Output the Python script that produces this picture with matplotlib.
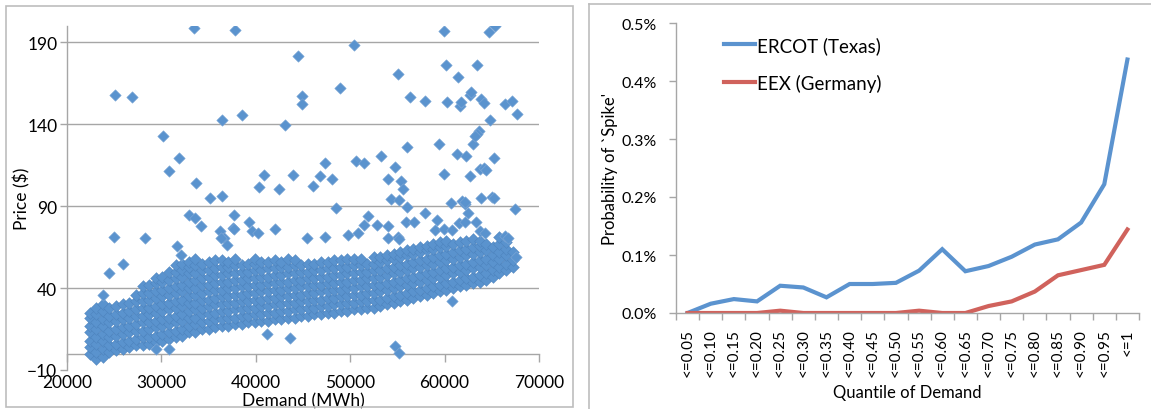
import matplotlib
matplotlib.use("Agg")
import matplotlib.pyplot as plt
from matplotlib.lines import Line2D
from matplotlib.ticker import FuncFormatter, FixedLocator

plt.rcParams['font.family'] = ['Lato', 'DejaVu Sans']

# ---------------- Left panel data: Demand (MWh) vs Price ($) ----------------
# dense band, typed column by column (demand, prices)
band_demand = [22400, 23100, 23800, 24500, 25200, 25900, 26600, 27300, 28000, 28700,
               29400, 30100, 30800, 31500, 32200, 32900, 33600, 34300, 35000, 35700,
               36400, 37100, 37800, 38500, 39200, 39900, 40600, 41300, 42000, 42700,
               43400, 44100, 44800, 45500, 46200, 46900, 47600, 48300, 49000, 49700,
               50400, 51100, 51800, 52500, 53200, 53900, 54600, 55300, 56000, 56700,
               57400, 58100, 58800, 59500, 60200, 60900, 61600, 62300, 63000, 63700,
               64400, 65100, 65800, 66500, 67200]
band_prices = [
    [0, 4, 8, 13, 17, 22, 25],
    [-3, 1, 6, 10, 15, 19, 24, 28],
    [-2, 3, 8, 12, 17, 21, 26, 30],
    [1, 5, 10, 14, 19, 23, 28],
    [2, 6, 11, 15, 20, 24, 29],
    [3, 7, 12, 16, 21, 25, 30],
    [4, 8, 13, 17, 22, 26, 31],
    [5, 9, 14, 18, 23, 27, 32, 36],
    [5, 10, 14, 19, 23, 28, 32, 37, 41],
    [6, 10, 15, 19, 24, 28, 33, 37, 42],
    [7, 11, 16, 20, 25, 29, 34, 38, 43, 46],
    [8, 12, 17, 21, 26, 30, 35, 39, 44, 47],
    [9, 13, 18, 22, 27, 31, 36, 40, 45, 50],
    [10, 14, 19, 23, 28, 32, 37, 41, 46, 50, 54],
    [11, 15, 20, 24, 29, 33, 38, 42, 47, 51, 55],
    [13, 17, 22, 26, 31, 35, 40, 44, 49, 53, 56],
    [13, 18, 22, 27, 31, 36, 40, 45, 49, 54, 58],
    [15, 19, 24, 28, 33, 37, 42, 46, 51, 55],
    [15, 20, 24, 29, 33, 38, 42, 47, 51, 56],
    [16, 21, 25, 30, 34, 39, 43, 48, 52, 57],
    [17, 21, 26, 30, 35, 39, 44, 48, 53, 57],
    [17, 22, 26, 31, 35, 40, 44, 49, 53, 56],
    [18, 22, 27, 31, 36, 40, 45, 49, 54, 58],
    [18, 23, 27, 32, 36, 41, 45, 50, 54],
    [19, 23, 28, 32, 37, 41, 46, 50, 55],
    [19, 24, 28, 33, 37, 42, 46, 51, 55, 58],
    [20, 24, 29, 33, 38, 42, 47, 51, 56],
    [20, 25, 29, 34, 38, 43, 47, 52, 56],
    [21, 25, 30, 34, 39, 43, 48, 52, 57],
    [21, 26, 30, 35, 39, 44, 48, 53, 56],
    [22, 26, 31, 35, 40, 44, 49, 53, 58],
    [22, 27, 31, 36, 40, 45, 49, 54, 57],
    [23, 27, 32, 36, 41, 45, 50, 54],
    [23, 28, 32, 37, 41, 46, 50, 55],
    [24, 28, 33, 37, 42, 46, 51, 55],
    [24, 29, 33, 38, 42, 47, 51, 56],
    [25, 29, 34, 38, 43, 47, 52, 56],
    [25, 30, 34, 39, 43, 48, 52, 57],
    [26, 30, 35, 39, 44, 48, 53, 57],
    [26, 31, 35, 40, 44, 49, 53, 58],
    [27, 31, 36, 40, 45, 49, 54, 58],
    [27, 32, 36, 41, 45, 50, 54, 58],
    [28, 32, 37, 41, 46, 50, 55],
    [28, 33, 37, 42, 46, 51, 55, 59],
    [29, 33, 38, 42, 47, 51, 56, 59],
    [30, 34, 39, 43, 48, 52, 57, 60],
    [31, 35, 40, 44, 49, 53, 58, 61],
    [32, 36, 41, 45, 50, 54, 59, 62],
    [33, 37, 42, 46, 51, 55, 60, 63],
    [34, 38, 43, 47, 52, 56, 61, 64],
    [35, 39, 44, 48, 53, 57, 62, 65],
    [36, 40, 45, 49, 54, 58, 63, 66],
    [37, 41, 46, 50, 55, 59, 64, 67],
    [38, 42, 47, 51, 56, 60, 65, 68],
    [39, 43, 48, 52, 57, 61, 66, 69],
    [40, 44, 49, 53, 58, 62, 67],
    [41, 45, 50, 54, 59, 63, 68],
    [42, 46, 51, 55, 60, 64, 69],
    [43, 47, 52, 56, 61, 65, 70],
    [44, 48, 53, 57, 62, 66, 69],
    [45, 49, 54, 58, 63, 67],
    [47, 51, 56, 60, 65],
    [49, 53, 58, 62, 67, 71],
    [51, 55, 60, 64, 68],
    [53, 57, 62],
]

# scattered points outside the band
out_demand = [33420, 37840, 59980, 64720, 65300, 50400, 44450, 55020, 60140, 63430,
              61470, 48870, 25090, 26920, 44920, 44920, 56380, 57950, 60220, 61670,
              61780, 62650, 62840, 63820, 64210, 66360, 67140, 67650, 64800, 36430,
              38580, 43120, 30170, 55990, 59400, 63040, 63630, 63430, 63230, 53250,
              31820, 50590, 51490, 47310, 61280, 62260, 65190, 30760, 40850, 43980,
              46800, 48050, 54740, 59900, 62720, 63740, 64210, 64410, 33690, 53960,
              55410, 55600, 40340, 42500, 46020, 35140, 36430, 54350, 55130, 60730,
              61860, 62170, 63820, 64990, 65270, 67420, 48480, 55990, 32910, 33610,
              37680, 34200, 39290, 36240, 36630, 37600, 37680, 42030, 39640, 40230,
              24970, 28290, 45430, 47310, 49730, 50790, 51460, 51890, 52860, 54040,
              54000, 55090, 55210, 55910, 56770, 57950, 59240, 58970, 59900, 60770,
              61500, 62200, 62450, 62200, 63300, 63800, 64300, 66440, 66700, 67540,
              31660, 32050, 25950, 24420, 23830, 60770, 41210, 43590, 54740, 55210,
              29390, 30760, 36350, 36900]
out_price = [198.7, 197.7, 197.1, 196.3, 199.8, 188.6, 181.5, 170.9, 176.4, 176.4,
             168.7, 162.0, 158.0, 156.5, 157.0, 152.6, 156.5, 154.4, 153.8, 151.0,
             153.4, 158.0, 159.5, 155.4, 153.0, 152.6, 154.4, 146.3, 142.4, 142.4,
             145.5, 139.8, 132.7, 126.0, 128.0, 128.2, 135.7, 134.3, 132.7, 120.5,
             119.5, 117.8, 116.4, 116.4, 122.1, 120.5, 119.5, 111.3, 108.9, 109.3,
             108.3, 106.3, 113.8, 109.7, 108.3, 112.4, 113.4, 112.0, 104.0, 106.3,
             105.2, 100.6, 101.6, 100.6, 102.2, 94.7, 96.5, 94.1, 93.5, 92.0,
             93.0, 91.6, 95.1, 95.7, 94.7, 88.4, 88.6, 89.6, 84.5, 82.9,
             84.5, 77.8, 80.4, 74.8, 70.3, 76.8, 75.8, 76.2, 74.8, 73.7,
             71.1, 70.5, 70.3, 71.3, 72.3, 73.7, 78.4, 84.3, 78.8, 78.2,
             70.7, 71.3, 70.1, 80.2, 80.2, 85.9, 81.3, 75.4, 75.8, 75.4,
             80.0, 80.4, 86.0, 92.5, 80.6, 75.0, 73.5, 71.7, 70.8, 58.9,
             66.0, 60.5, 54.8, 49.0, 35.5, 32.0, 11.8, 9.3, 4.6, 0.2,
             3.0, 2.6, 70.7, 66.5]

x_ticks_left = [20000, 30000, 40000, 50000, 60000, 70000]
y_ticks_left = [-10, 40, 90, 140, 190]

# ---------------- Right panel data ----------------
quantiles = ['<=0.05', '<=0.10', '<=0.15', '<=0.20', '<=0.25', '<=0.30', '<=0.35',
             '<=0.40', '<=0.45', '<=0.50', '<=0.55', '<=0.60', '<=0.65', '<=0.70',
             '<=0.75', '<=0.80', '<=0.85', '<=0.90', '<=0.95', '<=1']
ercot = [0.000, 0.016, 0.024, 0.020, 0.047, 0.044, 0.027, 0.050, 0.050, 0.052,
         0.073, 0.110, 0.072, 0.081, 0.097, 0.118, 0.127, 0.156, 0.222, 0.437]
eex = [0.000, 0.000, 0.000, 0.000, 0.004, 0.000, 0.000, 0.000, 0.000, 0.000,
       0.004, 0.000, 0.000, 0.012, 0.020, 0.037, 0.065, 0.074, 0.083, 0.144]
y_ticks_right = [0.0, 0.1, 0.2, 0.3, 0.4, 0.5]

# ---------------- styling ----------------
W, H = 1151, 410
fig = plt.figure(figsize=(W / 100, H / 100), dpi=100)
GRID = '#A6A6A6'
BOX = '#BDBDBD'
PT_FILL = '#5A93CE'
PT_EDGE = '#4A80BA'
BLUE = '#5B93CF'
RED = '#D0625C'

def fx(px):
    return px / W

def fy(py):
    return 1 - py / H

# panel borders
fig.add_artist(plt.Rectangle((fx(6), fy(408)), fx(573) - fx(6), fy(7) - fy(408),
                             transform=fig.transFigure, fill=False, edgecolor=BOX, lw=1.2))
fig.add_artist(Line2D([fx(589), fx(589)], [0, fy(5)], transform=fig.transFigure, color=BOX, lw=1.2))
fig.add_artist(Line2D([fx(589), 1], [fy(5), fy(5)], transform=fig.transFigure, color=BOX, lw=1.2))

# ---- left axes ----
axL = fig.add_axes([fx(67), fy(371), fx(539) - fx(67), fy(27) - fy(371)])
xs, ys = [], []
for d, plist in zip(band_demand, band_prices):
    for p in plist:
        xs.append(d)
        ys.append(p)
axL.scatter(xs, ys, marker='D', s=36, facecolor=PT_FILL, edgecolor=PT_EDGE, linewidths=0.3, zorder=3)
axL.scatter(out_demand, out_price, marker='D', s=34, facecolor=PT_FILL, edgecolor='#7FA8D6',
            linewidths=0.4, zorder=3)
axL.set_xlim(20000, 70000)
axL.set_ylim(-10, 200)
axL.set_xticks(x_ticks_left)
axL.set_yticks(y_ticks_left)
for v in y_ticks_left[1:]:
    axL.axhline(v, color=GRID, lw=1.0, zorder=1)
axL.spines['top'].set_visible(False)
axL.spines['right'].set_visible(False)
axL.spines['bottom'].set_position(('data', 0))
axL.spines['bottom'].set_color(GRID)
axL.spines['left'].set_color(GRID)
axL.spines['bottom'].set_linewidth(1.0)
axL.spines['left'].set_linewidth(1.0)
axL.tick_params(axis='x', direction='out', length=6, width=1, color=GRID, labelsize=12.5, pad=9)
axL.tick_params(axis='y', direction='out', length=5, width=1, color=GRID, labelsize=12.5, pad=2)
axL.set_xlabel('Demand (MWh)', fontsize=12.5)
axL.set_ylabel('Price ($)', fontsize=12.5)
axL.xaxis.set_label_coords(0.5, -0.065)
axL.yaxis.set_label_coords(-0.078, 0.5)

# ---- right axes ----
axR = fig.add_axes([fx(676), fy(314), fx(1139) - fx(676), fy(24) - fy(314)])
xpos = list(range(len(quantiles)))
axR.plot(xpos, ercot, color=BLUE, lw=3.0, solid_joinstyle='miter', label='ERCOT (Texas)')
axR.plot(xpos, eex, color=RED, lw=3.0, solid_joinstyle='miter', label='EEX (Germany)')
axR.set_xlim(-0.5, len(quantiles) - 0.5)
axR.set_ylim(0, 0.5)
axR.set_yticks(y_ticks_right)
axR.yaxis.set_major_formatter(FuncFormatter(lambda v, _: f'{v:.1f}%'))
axR.set_xticks(xpos)
axR.set_xticklabels(quantiles, rotation=90, fontsize=11)
axR.xaxis.set_minor_locator(FixedLocator([i - 0.5 for i in range(len(quantiles) + 1)]))
axR.tick_params(axis='x', which='major', length=0, pad=11)
axR.tick_params(axis='x', which='minor', direction='out', length=5, width=1, color=GRID)
axR.tick_params(axis='y', direction='out', length=5, width=1, color=GRID, labelsize=11.5, pad=9)
for s in ['top', 'right']:
    axR.spines[s].set_visible(False)
for s in ['left', 'bottom']:
    axR.spines[s].set_color(GRID)
    axR.spines[s].set_linewidth(1.0)
axR.set_xlabel('Quantile of Demand', fontsize=12)
axR.set_ylabel("Probability of `Spike'", fontsize=12)
axR.yaxis.set_label_coords(-0.125, 0.5)
axR.xaxis.set_label_coords(0.5, -0.245)
axR.legend(loc='upper left', bbox_to_anchor=(0.104, 0.955), frameon=False, fontsize=13.5,
           handlelength=1.65, handletextpad=0.1, labelspacing=1.05, borderpad=0, borderaxespad=0)

fig.savefig('out.png', dpi=100)
